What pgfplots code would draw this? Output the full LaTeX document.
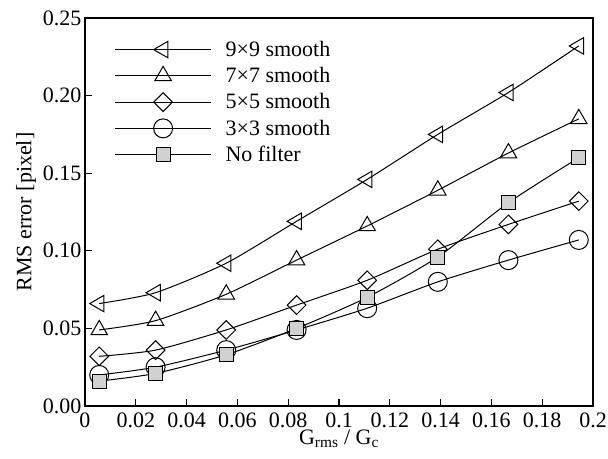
\documentclass[border=0pt]{standalone}
\usepackage{pgfplots}
\pgfplotsset{compat=1.18}
\usepackage{fontspec}
\setmainfont{Liberation Serif}

\pgfplotstableread{
x       f9     f7     f5     f3     none
0.0056  0.066  0.049  0.032  0.020  0.016
0.0278  0.073  0.055  0.036  0.025  0.021
0.0556  0.092  0.072  0.049  0.036  0.033
0.0833  0.119  0.094  0.065  0.049  0.050
0.1111  0.146  0.116  0.081  0.063  0.070
0.1389  0.175  0.139  0.101  0.080  0.096
0.1667  0.202  0.163  0.117  0.094  0.131
0.1944  0.232  0.185  0.132  0.107  0.160
}\rms

\begin{document}
\begin{tikzpicture}
\begin{axis}[
  scale only axis, width=508pt, height=388pt,
  xmin=0, xmax=0.2, ymin=0, ymax=0.25,
  xtick={0,0.02,...,0.2}, ytick={0,0.05,...,0.25},
  xticklabels={0,0.02,0.04,0.06,0.08,0.1,0.12,0.14,0.16,0.18,0.2},
  xticklabel style={inner sep=1pt, yshift=-6pt},
  yticklabel style={/pgf/number format/.cd, fixed, fixed zerofill, precision=2},
  /pgf/number format/assume math mode=true,
  tick align=inside, major tick length=7pt,
  xtick pos=bottom, ytick pos=left,
  axis line style={line width=1.1pt},
  every tick/.style={line width=1.1pt, black},
  font=\fontsize{22}{25}\selectfont,
  xlabel={G\textsubscript{rms} / G\textsubscript{c}},
  xlabel style={at={(axis description cs:0.5,0)}, anchor=north, inner sep=1pt, yshift=-23pt},
  ylabel={RMS error [pixel]},
  ylabel style={at={([xshift=-59pt]axis description cs:0,0.5)}, anchor=center},
  legend cell align=left,
  legend style={draw=none, fill=none, at={(axis description cs:0.052,0.951)}, anchor=north west,
    row sep=5.5pt, font=\fontsize{22}{25}\selectfont,
    /tikz/every odd column/.append style={column sep=12pt}},
  legend image code/.code={\draw[mark repeat=2,mark phase=2,#1] plot coordinates {(0pt,0pt)(48pt,0pt)(96pt,0pt)};},
  every axis plot/.append style={black, line width=1pt, smooth, tension=0.4},
  extra description/.code={
    \path ([xshift=-85pt,yshift=18pt]axis description cs:0,1);
    \path ([xshift=15pt,yshift=-53pt]axis description cs:1,0);
  },
]
\addplot[mark=triangle, mark size=9.5pt, mark options={rotate=90, fill=white, solid}] table[x=x,y=f9] {\rms};
\addlegendentry{9×9 smooth}
\addplot[mark=triangle, mark size=9.5pt, mark options={fill=white}] table[x=x,y=f7] {\rms};
\addlegendentry{7×7 smooth}
\addplot[mark=square, mark size=6.6pt, mark options={rotate=45, fill=white}] table[x=x,y=f5] {\rms};
\addlegendentry{5×5 smooth}
\addplot[mark=o, mark size=9.5pt, mark options={fill=white}] table[x=x,y=f3] {\rms};
\addlegendentry{3×3 smooth}
\addplot[mark=square*, mark size=7pt, mark options={fill=black!18}] table[x=x,y=none] {\rms};
\addlegendentry{No filter}
\end{axis}
\end{tikzpicture}
\end{document}
